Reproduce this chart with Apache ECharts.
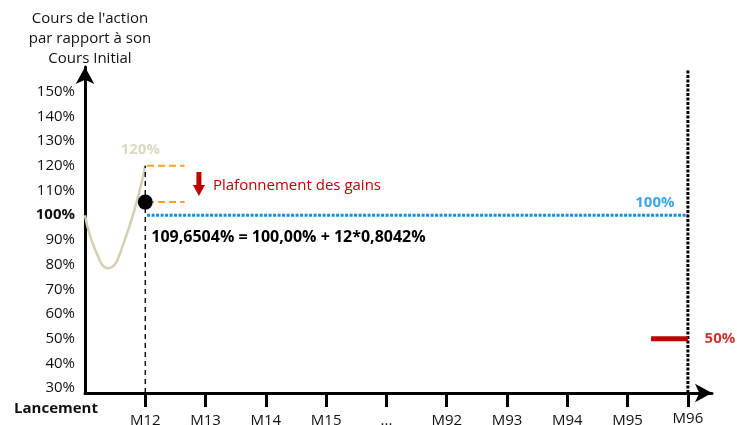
<!DOCTYPE html>
<html><head><meta charset="utf-8">
<script src="https://cdn.jsdelivr.net/npm/echarts@6/dist/echarts.min.js"></script>
<style>html,body{margin:0;padding:0;background:#fff}#c{width:737px;height:425px}</style>
</head><body><div id="c"></div>
<script>
// ---- data ----
const categories = ['Lancement','M12','M13','M14','M15','...','M92','M93','M94','M95','M96'];
const yTickValues = [30,40,50,60,70,80,90,100,110,120,130,140,150];
const curveX = [0, 0.17, 0.38, 0.66, 1];
const curveY = [100, 86, 78.5, 90, 120];
const peakLevel = 120;
const cappedLevel = 105.3;
const referenceLevel = 100;
const barrierLevel = 50;
const observationIndex = 1;
const maturityIndex = 10;
const formulaText = '109,6504% = 100,00% + 12*0,8042%';
const capText = 'Plafonnement des gains';
const axisTitle = "Cours de l'action\npar rapport à son\nCours Initial";

// ---- layout constants ----
const xMin = 0, xMax = 10.4, yMin = 28, yMax = 160;
const FONT = 'Open Sans';
const FS = 15;
const labelStyles = ['lan','a','a','a','a','a','a','a','a','a','e'];

const chart = echarts.init(document.getElementById('c'));
const option = {
  animation: false,
  textStyle: {fontFamily: FONT},
  grid: {left: 85, right: 25, top: 67, bottom: 32, containLabel: false, outerBoundsMode: 'none'},
  xAxis: {
    type: 'value', min: xMin, max: xMax,
    splitLine: {show: false},
    axisLine: {lineStyle: {color: '#000', width: 3}, symbol: ['none','arrow'], symbolSize: [14, 17]},
    axisTick: {show: true, customValues: categories.map((c,i)=>i).slice(1), length: 14, lineStyle: {color:'#000', width: 3}},
    axisLabel: {
      customValues: categories.map((c,i)=>i),
      margin: 8, fontSize: FS, color: '#111', fontFamily: FONT,
      formatter: (v) => { const i = Math.round(v); return '{' + labelStyles[i] + '|' + categories[i] + '}'; },
      rich: {
        lan: {fontWeight: 'bold', fontSize: FS, color:'#111', padding: [0, 58, 0, 0], fontFamily: FONT},
        a: {fontSize: FS, color:'#111', padding: [12, 0, 0, 0], fontFamily: FONT},
        e: {fontSize: FS, color:'#111', padding: [10, 0, 0, 0], fontFamily: FONT}
      }
    }
  },
  yAxis: {
    type: 'value', min: yMin, max: yMax,
    name: axisTitle, nameLocation: 'end', nameGap: -2,
    nameTextStyle: {fontSize: FS, color: '#111', lineHeight: 20, align: 'center', padding: [0,0,0,10], fontFamily: FONT},
    splitLine: {show: false},
    axisLine: {show: true, lineStyle: {color: '#000', width: 3}, symbol: ['none','arrow'], symbolSize: [14, 17]},
    axisTick: {show: false},
    axisLabel: {
      customValues: yTickValues, margin: 10, fontSize: FS, color: '#111', fontFamily: FONT,
      formatter: (v) => v === referenceLevel ? '{b|' + v + '%}' : v + '%',
      rich: {b: {fontWeight: 'bold', fontSize: FS, color: '#111', fontFamily: FONT}}
    }
  },
  series: [
    {type: 'line', smooth: 0.5, showSymbol: false, data: curveX.map((x,i)=>[x, curveY[i]]),
     lineStyle: {color: '#d6ceb2', width: 2.5}, z: 3},
    {type: 'line', showSymbol: false, data: [[observationIndex + 0.03, peakLevel],[observationIndex + 0.65, peakLevel]],
     lineStyle: {color: '#ffa01e', width: 2, type: [7,4]}},
    {type: 'line', showSymbol: false, data: [[observationIndex + 0.03, cappedLevel],[observationIndex + 0.65, cappedLevel]],
     lineStyle: {color: '#ffa01e', width: 2, type: [7,4]}},
    {type: 'line', showSymbol: false, data: [[observationIndex + 0.03, referenceLevel],[maturityIndex, referenceLevel]],
     lineStyle: {color: '#0b8fe3', width: 3, type: [3,1.5]}},
    {type: 'line', showSymbol: false, data: [[observationIndex, yMin],[observationIndex, peakLevel]],
     lineStyle: {color: '#111', width: 1.5, type: [5,4]}},
    {type: 'line', showSymbol: false, clip: false, data: [[maturityIndex, yMin],[maturityIndex, yMax - 1]],
     lineStyle: {color: '#000', width: 3, type: [3,1.5]}},
    {type: 'line', showSymbol: false, data: [[maturityIndex - 0.61, barrierLevel],[maturityIndex, barrierLevel]],
     lineStyle: {color: '#c00000', width: 5}},
    {type: 'scatter', symbol: 'circle', symbolSize: 15, itemStyle: {color: '#000', opacity: 1}, z: 5,
     data: [[observationIndex, cappedLevel]],
     label: {show: true, formatter: formulaText, position: [13.5, 43], align: 'left', verticalAlign: 'middle',
             fontSize: 16, fontWeight: 'bold', color: '#000', fontFamily: FONT}},
    {type: 'scatter', symbol: 'path://M3.5,0 L8.5,0 L8.5,13 L12,13 L6,24 L0,13 L3.5,13 Z', symbolSize: [12, 24],
     itemStyle: {color: '#c00000', opacity: 1}, data: [[observationIndex + 0.89, (peakLevel + cappedLevel) / 2]],
     label: {show: true, formatter: capText, position: 'right', distance: 8, offset: [0, 2], fontSize: FS, color: '#c00000', fontFamily: FONT}},
    {type: 'scatter', symbolSize: 0, itemStyle: {color: 'transparent'}, clip: false,
     data: [
       {value: [observationIndex, peakLevel], label: {formatter: peakLevel + '%', position: [-5, -16], color: '#d6ceb2'}},
       {value: [maturityIndex, referenceLevel], label: {formatter: referenceLevel + '%', position: [-33, -12], color: '#0b8fe3'}},
       {value: [maturityIndex, barrierLevel], label: {formatter: barrierLevel + '%', position: [32, 0], color: '#c00000'}}
     ],
     label: {show: true, align: 'center', verticalAlign: 'middle', fontSize: FS, fontWeight: 'bold', fontFamily: FONT}}
  ]
};
chart.setOption(option);
</script></body></html>
